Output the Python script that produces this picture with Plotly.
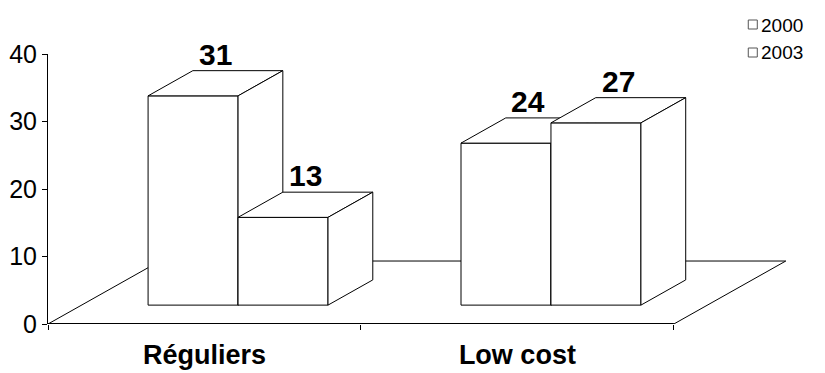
import plotly.graph_objects as go

# ---- data ----
categories = ["Réguliers", "Low cost"]
years = ["2000", "2003"]
values_2000 = [31, 24]
values_2003 = [13, 27]
y_ticks = [0, 10, 20, 30, 40]

series = [values_2000, values_2003]

# ---- 3D projection parameters (axis units) ----
BAR_W = 0.2875          # width of one bar along the category axis
DEPTH_X = 0.3578        # horizontal shift of the full floor depth
DEPTH_Y = 9.33          # vertical shift of the full floor depth
D_FRONT, D_BACK = 0.30, 0.70   # bar depth span within the floor

FONT = "Liberation Sans, Arial, sans-serif"
LINE = dict(color="black", width=1)

W, H = 825, 373
M_L, M_R, M_T, M_B = 48, 26.3, 54, 49
X_RANGE = [-0.5, 1.9]
Y_RANGE = [0, 40]


def proj(x, y, d):
    """Project a point (x, y) at floor depth d onto the chart plane."""
    return x + d * DEPTH_X, y + d * DEPTH_Y


def poly(points):
    xs = [p[0] for p in points] + [points[0][0]]
    ys = [p[1] for p in points] + [points[0][1]]
    return go.Scatter(x=xs, y=ys, mode="lines", fill="toself",
                      fillcolor="white", line=LINE,
                      hoverinfo="skip", showlegend=False)


fig = go.Figure()

# floor
x_lo, x_hi = -0.5, len(categories) - 0.5
floor = [proj(x_lo, 0, 0), proj(x_hi, 0, 0), proj(x_hi, 0, 1), proj(x_lo, 0, 1)]
fig.add_trace(poly(floor))
fig.add_trace(go.Scatter(x=[x_lo, x_hi], y=[0, 0], mode="lines",
                         line=dict(color="black", width=2),
                         hoverinfo="skip", showlegend=False))

# bars, drawn left to right so nearer faces cover hidden ones
labels = []
for i, cat in enumerate(categories):
    for s, vals in enumerate(series):
        v = vals[i]
        x0 = i - BAR_W + s * BAR_W
        x1 = x0 + BAR_W
        front = [proj(x0, 0, D_FRONT), proj(x1, 0, D_FRONT),
                 proj(x1, v, D_FRONT), proj(x0, v, D_FRONT)]
        top = [proj(x0, v, D_FRONT), proj(x1, v, D_FRONT),
               proj(x1, v, D_BACK), proj(x0, v, D_BACK)]
        side = [proj(x1, 0, D_FRONT), proj(x1, 0, D_BACK),
                proj(x1, v, D_BACK), proj(x1, v, D_FRONT)]
        for face in (front, top, side):
            fig.add_trace(poly(face))
        cx, cy = proj((x0 + x1) / 2, v, (D_FRONT + D_BACK) / 2)
        labels.append(dict(x=cx, y=cy, text=str(v), showarrow=False,
                           xanchor="center", yanchor="middle", yshift=29,
                           font=dict(family=FONT, size=30, color="black",
                                     weight="bold")))

plot_w = W - M_L - M_R
plot_h = H - M_T - M_B


def px_to_paper(px, py):
    return (px - M_L) / plot_w, (H - M_B - py) / plot_h


# legend: empty squares with year labels
shapes = []
legend_ann = []
for k, yr in enumerate(years):
    cy = 25 + 28 * k
    ax0, ay0 = px_to_paper(748, cy - 5)
    ax1, ay1 = px_to_paper(757, cy + 4)
    shapes.append(dict(type="rect", xref="paper", yref="paper",
                       x0=ax0, x1=ax1, y0=ay1, y1=ay0,
                       line=dict(color="#555", width=1), fillcolor="white"))
    tx, ty = px_to_paper(759, cy)
    legend_ann.append(dict(x=tx, y=ty, xref="paper", yref="paper", text=yr,
                           showarrow=False, xanchor="left", yanchor="middle",
                           font=dict(family=FONT, size=19, color="black")))

fig.update_layout(
    width=W, height=H,
    margin=dict(l=M_L, r=M_R, t=M_T, b=M_B, pad=0, autoexpand=False),
    paper_bgcolor="white", plot_bgcolor="white",
    showlegend=False,
    shapes=shapes,
    annotations=labels + legend_ann,
    xaxis=dict(
        range=X_RANGE, showgrid=False, zeroline=False, showline=False,
        automargin=False,
        tickmode="array", tickvals=list(range(len(categories))),
        ticktext=categories, ticks="", ticklabelstandoff=12,
        tickfont=dict(family=FONT, size=27, color="black", weight="bold"),
        minor=dict(tickmode="array", tickvals=[-0.5, 0.5, 1.5],
                   ticks="outside", ticklen=5, tickcolor="black",
                   tickwidth=1, showgrid=False),
        fixedrange=True,
    ),
    yaxis=dict(
        range=Y_RANGE, showgrid=False, zeroline=False, showline=True,
        linecolor="black", linewidth=1, automargin=False,
        tickmode="array", tickvals=y_ticks, ticks="outside", ticklen=5,
        tickcolor="black",
        tickfont=dict(family=FONT, size=25, color="black"),
        fixedrange=True,
    ),
)

fig.write_html("out.html", config={"displayModeBar": False})
